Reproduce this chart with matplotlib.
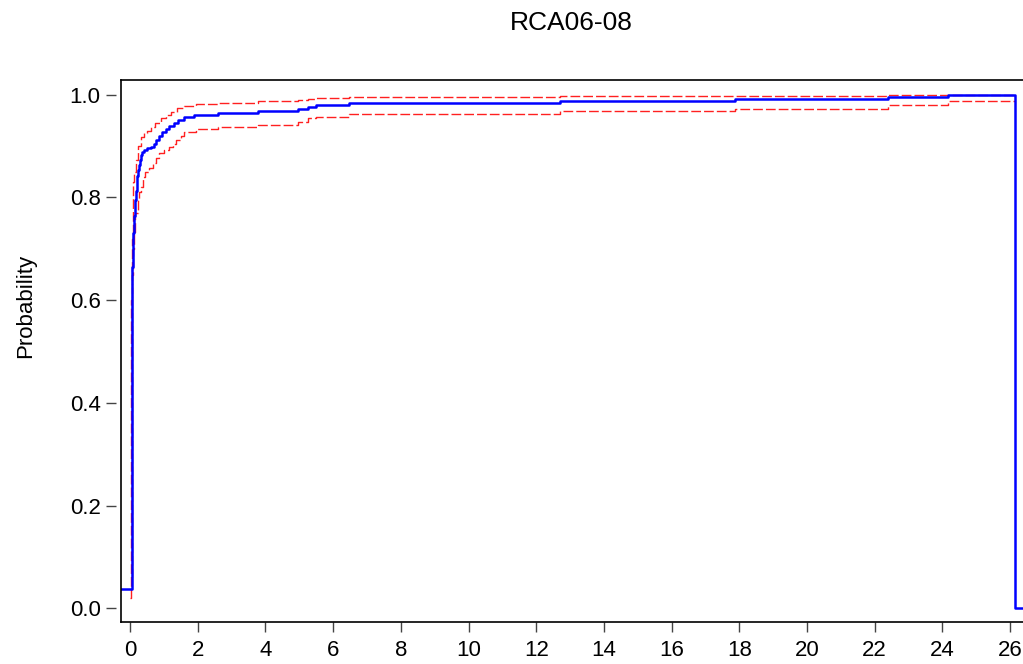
import matplotlib
matplotlib.use("Agg")
import matplotlib.pyplot as plt

plt.rcParams["font.family"] = ["Liberation Sans", "DejaVu Sans"]

TITLE = "RCA06-08"
Y_LABEL = "Probability"
X_TICKS = list(range(0, 27, 2))
Y_TICKS = [0.0, 0.2, 0.4, 0.6, 0.8, 1.0]

# empirical CDF (step points, value holds until next x)
cdf_x = [-0.28, 0.048, 0.055, 0.059, 0.068, 0.077, 0.088, 0.098, 0.11, 0.127,
         0.14, 0.157, 0.175, 0.195, 0.22, 0.245, 0.27, 0.295, 0.325, 0.36,
         0.42, 0.5, 0.62, 0.70, 0.77, 0.85, 0.96, 1.05, 1.16, 1.31,
         1.41, 1.6, 1.9, 2.59, 3.77, 4.96, 5.27, 5.5, 6.48, 12.71,
         17.87, 22.38, 24.16, 26.15, 26.5]
cdf_y = [0.037, 0.60, 0.62, 0.633, 0.665, 0.698, 0.715, 0.730, 0.745, 0.763,
         0.78, 0.796, 0.812, 0.828, 0.842, 0.854, 0.863, 0.873, 0.883, 0.888,
         0.8925, 0.896, 0.899, 0.905, 0.912, 0.92, 0.928, 0.934, 0.94, 0.946,
         0.95, 0.956, 0.9615, 0.9654, 0.969, 0.973, 0.977, 0.981, 0.985, 0.9885,
         0.9923, 0.9962, 1.0, 0.0, 0.0]

# upper confidence band
upper_x = [0.03, 0.045, 0.06, 0.08, 0.10, 0.13, 0.18, 0.25, 0.32, 0.4,
           0.5, 0.62, 0.75, 0.92, 1.05, 1.21, 1.4, 1.6, 1.95, 2.59,
           3.77, 4.96, 5.27, 5.5, 6.48, 12.71, 22.38, 26.15]
upper_y = [0.06, 0.6, 0.72, 0.80, 0.83, 0.85, 0.873, 0.90, 0.918, 0.925,
           0.93, 0.938, 0.945, 0.954, 0.96, 0.967, 0.974, 0.978, 0.982, 0.985,
           0.987, 0.990, 0.992, 0.994, 0.996, 0.997, 0.9995, 0.9995]

# lower confidence band
lower_x = [0.0, 0.04, 0.06, 0.09, 0.127, 0.16, 0.225, 0.26, 0.325, 0.37,
           0.45, 0.55, 0.67, 0.77, 0.87, 1.0, 1.16, 1.26, 1.36, 1.5,
           1.6, 1.95, 2.59, 3.77, 4.96, 5.27, 5.5, 6.48, 12.71, 17.87,
           22.38, 24.16, 26.15]
lower_y = [0.02, 0.6, 0.65, 0.70, 0.73, 0.77, 0.795, 0.81, 0.821, 0.84,
           0.85, 0.858, 0.867, 0.876, 0.886, 0.892, 0.899, 0.905, 0.912, 0.92,
           0.928, 0.933, 0.937, 0.941, 0.948, 0.954, 0.957, 0.962, 0.968, 0.973,
           0.98, 0.9875, 0.9875]

fig = plt.figure(figsize=(10.23, 6.64), dpi=100)
ax = fig.add_axes([0.1178, 0.0628, 0.8822, 0.8167])

band_style = dict(color="#ff2020", linewidth=1.0, linestyle=(0, (7, 2.2)),
                  drawstyle="steps-post")
ax.plot(upper_x, upper_y, **band_style)
ax.plot(lower_x, lower_y, **band_style)
ax.plot(cdf_x, cdf_y, color="#0000ff", linewidth=1.8, drawstyle="steps-post")

ax.set_xlim(-0.28, 26.38)
ax.set_ylim(-0.0273, 1.0288)
ax.set_xticks(X_TICKS)
ax.set_yticks(Y_TICKS)
ax.set_yticklabels([f"{v:.1f}" for v in Y_TICKS])
ax.tick_params(axis="both", labelsize=16, length=7.2, width=1.0,
               color="#444444", direction="out")
ax.tick_params(axis="y", pad=3.6)
ax.tick_params(axis="x", pad=5.8)

# EViews-like frame: left ticks detached from the frame line
ax.spines["right"].set_visible(False)
ax.spines["left"].set_position(("outward", 3.6))
ax.spines["left"].set_visible(False)
ax.plot([0, 0], [0, 1], transform=ax.transAxes, color="black",
        linewidth=1.2, clip_on=False)
for side in ["top", "bottom"]:
    ax.spines[side].set_linewidth(1.2)

fig.text(0.025, 0.54, Y_LABEL, fontsize=16, rotation=90,
         ha="center", va="center")
fig.text(0.5586, 0.965, TITLE, fontsize=19, ha="center", va="center")

fig.savefig("out.png", dpi=100)
plt.close(fig)
